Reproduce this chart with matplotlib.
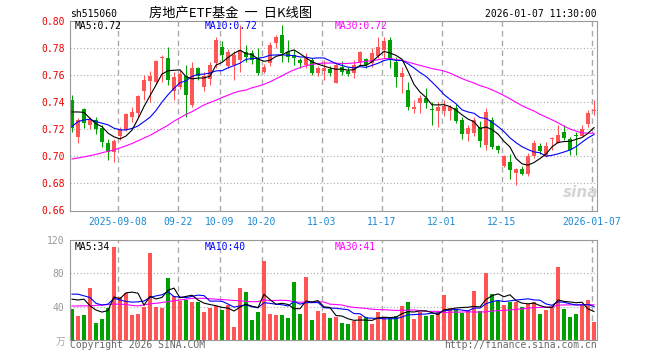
import numpy as np
import pandas as pd
import matplotlib
matplotlib.use("Agg")
import matplotlib.pyplot as plt

plt.rcParams['font.family'] = ['DejaVu Sans Mono', 'Noto Sans CJK SC']

# daily candles (open, high, low, close)
o = [0.742, 0.714, 0.735, 0.7235, 0.727, 0.721, 0.710, 0.703, 0.7153, 0.7196,
     0.729, 0.7323, 0.748, 0.7557, 0.7552, 0.7727, 0.7725, 0.748, 0.7515, 0.7594,
     0.738, 0.765, 0.7515, 0.757, 0.7688, 0.781, 0.767, 0.7675, 0.771, 0.777,
     0.7762, 0.7725, 0.7626, 0.7688, 0.7835, 0.790, 0.7774, 0.7749, 0.7712, 0.7675,
     0.7712, 0.7618, 0.763, 0.7643, 0.7545, 0.7663, 0.7633, 0.7614, 0.770, 0.7717,
     0.7688, 0.7742, 0.7786, 0.786, 0.770, 0.7589, 0.749, 0.7348, 0.7393, 0.7434,
     0.7346, 0.7338, 0.7338, 0.7338, 0.7355, 0.7269, 0.7166, 0.717, 0.722, 0.7085,
     0.7269, 0.7078, 0.693, 0.6962, 0.6876, 0.6905, 0.687, 0.6999, 0.7078, 0.700,
     0.7127, 0.7097, 0.7183, 0.7127, 0.7159, 0.7152, 0.724, 0.7336]
h = [0.745, 0.7286, 0.736, 0.729, 0.729, 0.723, 0.713, 0.7125, 0.7215, 0.7323,
     0.7365, 0.745, 0.760, 0.763, 0.771, 0.775, 0.7806, 0.762, 0.7635, 0.7675,
     0.770, 0.766, 0.762, 0.770, 0.7884, 0.785, 0.7795, 0.7775, 0.797, 0.782,
     0.7786, 0.780, 0.768, 0.7845, 0.7895, 0.797, 0.786, 0.7786, 0.7725, 0.776,
     0.7725, 0.767, 0.7712, 0.767, 0.768, 0.7702, 0.766, 0.7712, 0.778, 0.773,
     0.780, 0.7884, 0.788, 0.7884, 0.7737, 0.7663, 0.755, 0.7417, 0.7454, 0.7503,
     0.7405, 0.7405, 0.742, 0.738, 0.7385, 0.729, 0.7233, 0.729, 0.7258, 0.7355,
     0.729, 0.7085, 0.7011, 0.7016, 0.6913, 0.693, 0.7024, 0.7122, 0.7097, 0.7104,
     0.7146, 0.7233, 0.7233, 0.7146, 0.7183, 0.7233, 0.7343, 0.7417]
l = [0.718, 0.710, 0.721, 0.720, 0.7166, 0.707, 0.6975, 0.696, 0.712, 0.7185,
     0.7257, 0.729, 0.7417, 0.7405, 0.754, 0.7552, 0.7528, 0.7417, 0.7495, 0.7294,
     0.7368, 0.7565, 0.748, 0.7525, 0.765, 0.7705, 0.765, 0.7565, 0.762, 0.770,
     0.768, 0.760, 0.7614, 0.767, 0.780, 0.770, 0.770, 0.7676, 0.765, 0.765,
     0.760, 0.7595, 0.7565, 0.7594, 0.754, 0.760, 0.759, 0.7577, 0.7675, 0.7652,
     0.766, 0.773, 0.7725, 0.765, 0.7515, 0.7466, 0.734, 0.7319, 0.7324, 0.7355,
     0.7233, 0.722, 0.7295, 0.727, 0.725, 0.7125, 0.7117, 0.715, 0.7072, 0.7048,
     0.7055, 0.7025, 0.692, 0.6832, 0.6787, 0.686, 0.6856, 0.699, 0.7018, 0.6995,
     0.7048, 0.7097, 0.7122, 0.701, 0.701, 0.715, 0.722, 0.7305]
c = [0.721, 0.727, 0.7245, 0.7272, 0.7205, 0.7105, 0.703, 0.711, 0.7195, 0.731,
     0.7325, 0.7446, 0.7565, 0.7594, 0.7705, 0.7733, 0.7565, 0.7584, 0.7609, 0.7454,
     0.765, 0.7594, 0.759, 0.7675, 0.786, 0.775, 0.7774, 0.775, 0.7786, 0.7737,
     0.7712, 0.7614, 0.7663, 0.7823, 0.7884, 0.7762, 0.7737, 0.7725, 0.7688, 0.7725,
     0.7618, 0.765, 0.7655, 0.7618, 0.7675, 0.7626, 0.7609, 0.7675, 0.7774, 0.7675,
     0.7762, 0.781, 0.7855, 0.7715, 0.7589, 0.7619, 0.7368, 0.7368, 0.743, 0.7393,
     0.7343, 0.7368, 0.7373, 0.7363, 0.7264, 0.7166, 0.7213, 0.7269, 0.711, 0.733,
     0.7068, 0.7048, 0.6999, 0.690, 0.6908, 0.687, 0.6999, 0.7097, 0.7043, 0.7078,
     0.7134, 0.7159, 0.7134, 0.7048, 0.7152, 0.7201, 0.7319, 0.7343]

# volume (10k lots)
vol = [37.2, 28.8, 30, 62.8, 20.8, 25.2, 38, 111.6, 52, 56,
       29.6, 31.6, 40, 105, 40, 38.8, 74.8, 52.8, 47.2, 48,
       46, 46, 34, 38.8, 40.8, 36, 42, 16, 62.8, 58,
       24, 34, 95.2, 31.2, 30, 30, 26.8, 70, 31.2, 76,
       24, 35.2, 32.8, 26.8, 28, 20.8, 19.2, 23.2, 28.8, 27.2,
       19.2, 34, 27.2, 27.2, 28.8, 40.8, 46, 25.2, 34, 29.2,
       30, 34, 54, 38, 36, 32.8, 36, 58.8, 34.8, 80.8,
       55.2, 47.2, 42, 46, 46, 40, 43.2, 46, 31.2, 36,
       39.2, 88, 37.2, 28, 31.2, 42, 48, 22]

# moving average values at the left edge (window starts before the visible range)
ma5_head = [0.7328, 0.7328, 0.7325, 0.728]
ma10_head = [0.722, 0.7257, 0.7269, 0.7274, 0.7257, 0.7245, 0.7233, 0.7208, 0.7196]
ma30_head = [0.698, 0.6988, 0.6996, 0.7005, 0.7015, 0.7027, 0.7037, 0.7047, 0.7062, 0.7078,
             0.7095, 0.7115, 0.7135, 0.7155, 0.718, 0.7205, 0.723, 0.726, 0.7285, 0.731,
             0.733, 0.7355, 0.738, 0.7398, 0.7415, 0.7435, 0.7452, 0.747, 0.7482]
vma5_head = [49, 48, 49, 41]
vma10_head = [55, 55, 53, 51, 44, 42, 43, 50, 48]
vma30_head = [40.8, 40.8, 41, 41, 41.5, 42, 42.5, 43, 43, 42.5,
              41.5, 41, 42, 43.5, 44, 45, 46, 47, 48, 49,
              50, 50, 50, 49.5, 49, 48.5, 48, 47.5, 47]

holidays = ["2025-10-01", "2025-10-02", "2025-10-03", "2025-10-06", "2025-10-07",
            "2025-10-08", "2026-01-01", "2026-01-02"]
tick_dates = ["2025-09-08", "2025-09-22", "2025-10-09", "2025-10-20", "2025-11-03",
              "2025-11-17", "2025-12-01", "2025-12-15", "2026-01-07"]
tick_text = ["2025-09-08", "09-22", "10-09", "10-20", "11-03",
             "11-17", "12-01", "12-15", "2026-01-07"]

dates = pd.bdate_range("2025-08-27", "2026-01-07")
dates = dates[~dates.isin(pd.to_datetime(holidays))]
x = np.arange(len(dates))
tick_x = np.array([dates.get_loc(pd.Timestamp(d)) for d in tick_dates]) - 0.33

o, h, l, c, vol = map(np.array, (o, h, l, c, vol))


def moving(vals, n, head):
    s = pd.Series(vals).rolling(n).mean()
    s.iloc[:len(head)] = head
    return s.values


ma5, ma10, ma30 = moving(c, 5, ma5_head), moving(c, 10, ma10_head), moving(c, 30, ma30_head)
vma5, vma10, vma30 = moving(vol, 5, vma5_head), moving(vol, 10, vma10_head), moving(vol, 30, vma30_head)

RED, GREEN = '#ff5555', '#00a000'
GRID = '#aaaaaa'
colors = np.where(c >= o, RED, GREEN)

W, H = 660, 360
fig = plt.figure(figsize=(6.6, 3.6), dpi=100)
ax = fig.add_axes([70 / W, 1 - 210.5 / H, 527 / W, 189.5 / H])
axv = fig.add_axes([70 / W, 1 - 340 / H, 527 / W, 100 / H])

for a in (ax, axv):
    a.set_xlim(-1 / 3, 87.5)
    for s in a.spines.values():
        s.set_color('#999999')
        s.set_linewidth(0.8)
    for tx in tick_x:
        a.axvline(tx, color=GRID, lw=1.0, ls=(0, (4, 3)), zorder=0)

# price panel
for yv in np.arange(0.68, 0.79, 0.02):
    ax.axhline(yv, color=GRID, lw=0.8, ls=(0, (1, 2)), zorder=0)
ax.vlines(x, l, h, colors=colors, lw=0.75, zorder=2)
ax.bar(x, np.maximum(np.abs(c - o), 0.0006), bottom=np.minimum(o, c), width=0.8,
       color=colors, linewidth=0, zorder=2)
ax.plot(x, ma30, color='#ff00ff', lw=0.8, zorder=3)
ax.plot(x, ma10, color='#0000ff', lw=0.8, zorder=3)
ax.plot(x, ma5, color='black', lw=0.8, zorder=3)
ax.set_ylim(0.66, 0.80)
ax.set_yticks(np.arange(0.66, 0.801, 0.02))
ax.set_yticklabels(["%.2f" % v for v in np.arange(0.66, 0.801, 0.02)])
ax.tick_params(axis='y', length=0, pad=4, labelsize=7, labelcolor='#ee0000')
ax.set_xticks(tick_x)
ax.set_xticklabels(tick_text)
ax.tick_params(axis='x', length=0, pad=5, labelsize=7, labelcolor='#1a8ad4')

# volume panel
for yv in (40, 80):
    axv.axhline(yv, color=GRID, lw=0.8, ls=(0, (1, 2)), zorder=0)
axv.bar(x, vol, width=0.8, color=colors, linewidth=0, zorder=2)
axv.plot(x, vma30, color='#ff00ff', lw=0.8, zorder=3)
axv.plot(x, vma10, color='#0000ff', lw=0.8, zorder=3)
axv.plot(x, vma5, color='black', lw=0.8, zorder=3)
axv.set_ylim(0, 120)
axv.set_yticks([40, 80, 120])
axv.tick_params(axis='y', length=0, pad=4, labelsize=7, labelcolor='#999999')
axv.set_xticks([])


def ftext(px, py, s, **kw):
    fig.text(px / W, 1 - py / H, s, **kw)


ftext(70, 17.3, "sh515060", fontsize=7, va='baseline')
ftext(231, 17, "房地产ETF基金  一  日K线图", fontsize=9.5, ha='center', va='baseline',
      family=['Noto Sans CJK SC', 'DejaVu Sans'])
ftext(597, 17.3, "2026-01-07 11:30:00", fontsize=7, ha='right', va='baseline')

ftext(75, 29.3, "MA5:0.72", fontsize=7, va='baseline', color='black')
ftext(205, 29.3, "MA10:0.72", fontsize=7, va='baseline', color='#0000ff')
ftext(335, 29.3, "MA30:0.72", fontsize=7, va='baseline', color='#ff00ff')

ftext(75, 250, "MA5:34", fontsize=7, va='baseline', color='black')
ftext(205, 250, "MA10:40", fontsize=7, va='baseline', color='#0000ff')
ftext(335, 250, "MA30:41", fontsize=7, va='baseline', color='#ff00ff')

ftext(65, 345, "万", fontsize=7, ha='right', va='baseline', color='#aaaaaa',
      family=['Noto Sans CJK SC', 'DejaVu Sans'])
ftext(70, 348.5, "Copyright 2026 SINA.COM", fontsize=7, va='baseline', color='#666666')
ftext(597, 348.5, "http://finance.sina.com.cn", fontsize=7, ha='right', va='baseline',
      color='#666666')

# sina watermark
ftext(581, 197, "sina", fontsize=11, ha='center', va='baseline', color='#d4d4d4',
      family='DejaVu Sans', style='italic', weight='bold')

fig.savefig("out.png", dpi=100, facecolor='white')
